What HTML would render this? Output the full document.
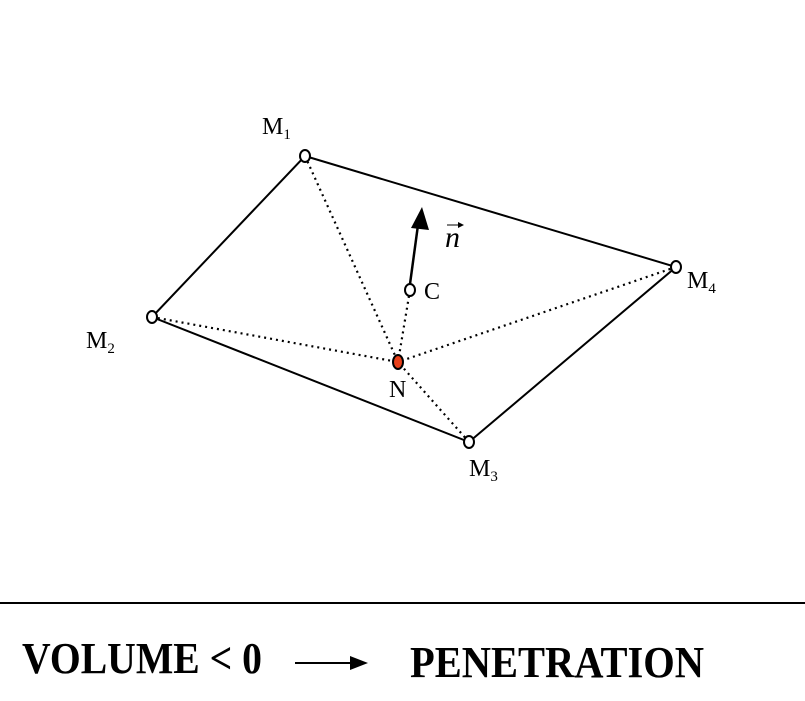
<!DOCTYPE html>
<html><head><style>body{margin:0;background:#fff}</style></head><body>
<svg width="805" height="701" xmlns="http://www.w3.org/2000/svg" style="display:block">
<g stroke="#000" stroke-width="2" fill="none">
<polygon points="305,156 676,267 469,442 152,317"/>
</g>
<g stroke="#000" stroke-width="2.2" stroke-dasharray="2,4" fill="none">
<line x1="305" y1="156" x2="398" y2="362"/>
<line x1="152" y1="317" x2="398" y2="362"/>
<line x1="676" y1="267" x2="398" y2="362"/>
<line x1="469" y1="442" x2="398" y2="362"/>
<line x1="410" y1="290" x2="398" y2="362"/>
</g>
<line x1="410" y1="284" x2="418" y2="225" stroke="#000" stroke-width="2.5"/>
<polygon points="422,207 411,228 429,230" fill="#000"/>
<g fill="#fff" stroke="#000" stroke-width="2">
<ellipse cx="305" cy="156" rx="5" ry="6"/>
<ellipse cx="152" cy="317" rx="5" ry="6"/>
<ellipse cx="469" cy="442" rx="5" ry="6"/>
<ellipse cx="676" cy="267" rx="5" ry="6"/>
<ellipse cx="410" cy="290" rx="5" ry="6"/>
<ellipse cx="398" cy="362" rx="5" ry="7" fill="#e8401a"/>
</g>
<g font-family="Liberation Serif, serif" font-size="24" fill="#000">
<text x="262" y="134">M<tspan font-size="15" dy="5">1</tspan></text>
<text x="86" y="348">M<tspan font-size="15" dy="5">2</tspan></text>
<text x="469" y="476">M<tspan font-size="15" dy="5">3</tspan></text>
<text x="687" y="288">M<tspan font-size="15" dy="5">4</tspan></text>
<text x="424" y="299">C</text>
<text x="389" y="397">N</text>
<text x="445" y="247" font-style="italic" font-size="30">n</text>
</g>
<line x1="447" y1="225" x2="462" y2="225" stroke="#000" stroke-width="1"/>
<polygon points="464,225 458,222 458,228" fill="#000"/>
<line x1="0" y1="603" x2="805" y2="603" stroke="#000" stroke-width="2"/>
<g font-family="Liberation Serif, serif" font-weight="bold" font-size="44" fill="#000">
<text x="22" y="673" textLength="240" lengthAdjust="spacingAndGlyphs">VOLUME &lt; 0</text>
<text x="410" y="677" textLength="294" lengthAdjust="spacingAndGlyphs">PENETRATION</text>
</g>
<line x1="295" y1="663" x2="352" y2="663" stroke="#000" stroke-width="2"/>
<polygon points="368,663 350,656 350,670" fill="#000"/>
</svg>
</body></html>
